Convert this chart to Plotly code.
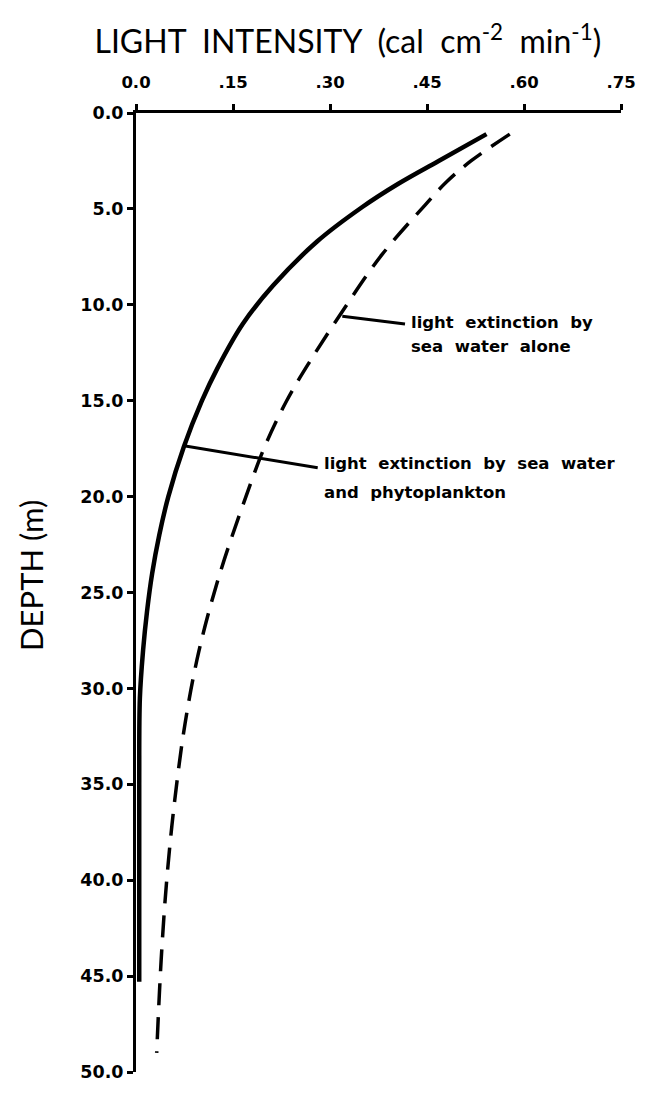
import plotly.graph_objects as go

# ---- data ----
depth_phyto = [1.1, 2.5, 3.7, 4.9, 6.7, 9.0, 11.0, 13.3, 15.0, 17.4, 20.0, 22.0, 24.0, 26.0, 28.0, 30.5, 35.0, 40.0, 45.3]
light_phyto = [0.542, 0.468, 0.405, 0.350, 0.280, 0.212, 0.165, 0.126, 0.102, 0.074, 0.050, 0.036, 0.025, 0.017, 0.011, 0.006, 0.005, 0.005, 0.005]

depth_water = [1.1, 2.5, 3.6, 4.8, 7.4, 10.4, 13.0, 15.0, 17.4, 20.0, 24.2, 28.1, 31.8, 35.8, 39.8, 44.1, 49.0]
light_water = [0.578, 0.518, 0.480, 0.447, 0.380, 0.318, 0.268, 0.233, 0.199, 0.170, 0.128, 0.097, 0.076, 0.060, 0.048, 0.039, 0.032]

x_tickvals = [0.0, 0.15, 0.30, 0.45, 0.60, 0.75]
x_ticktext = ["0.0", ".15", ".30", ".45", ".60", ".75"]
y_tickvals = [0, 5, 10, 15, 20, 25, 30, 35, 40, 45, 50]
y_ticktext = ["0.0", "5.0", "10.0", "15.0", "20.0", "25.0", "30.0", "35.0", "40.0", "45.0", "50.0"]

# leader lines (light, depth) and label lines
leader_water_x = [0.319, 0.416]
leader_water_y = [10.6, 11.0]
label_water_lines = ["light  extinction  by", "sea  water  alone"]
label_water_x = 0.422
label_water_y = [10.9, 12.15]

leader_phyto_x = [0.074, 0.281]
leader_phyto_y = [17.35, 18.5]
label_phyto_lines = ["light  extinction  by  sea  water", "and  phytoplankton"]
label_phyto_x = 0.288
label_phyto_y = [18.3, 19.8]

title_text = "LIGHT  INTENSITY  (cal  cm<sup>-2</sup>  min<sup>-1</sup>)"
ytitle_text = "DEPTH (m)"

fig = go.Figure()
fig.add_trace(go.Scatter(x=light_phyto, y=depth_phyto, mode="lines",
                         line=dict(color="black", width=4.5, shape="spline", smoothing=1.0),
                         showlegend=False, hoverinfo="skip"))
fig.add_trace(go.Scatter(x=light_water, y=depth_water, mode="lines",
                         line=dict(color="black", width=3.5, dash="22px,12px", shape="spline", smoothing=1.0),
                         showlegend=False, hoverinfo="skip"))
fig.add_trace(go.Scatter(x=leader_water_x, y=leader_water_y, mode="lines",
                         line=dict(color="black", width=3), showlegend=False, hoverinfo="skip"))
fig.add_trace(go.Scatter(x=leader_phyto_x, y=leader_phyto_y, mode="lines",
                         line=dict(color="black", width=3), showlegend=False, hoverinfo="skip"))

xtickfont = dict(family="DejaVu Sans", size=16.5, color="black", weight="bold")
ytickfont = dict(family="DejaVu Sans", size=17.5, color="black", weight="bold")
labfont = dict(family="DejaVu Sans", size=16.5, color="black", weight="bold")

for txt, yy in zip(label_water_lines, label_water_y):
    fig.add_annotation(x=label_water_x, y=yy, xref="x", yref="y", text=txt, showarrow=False,
                       xanchor="left", yanchor="middle", align="left", font=labfont)
for txt, yy in zip(label_phyto_lines, label_phyto_y):
    fig.add_annotation(x=label_phyto_x, y=yy, xref="x", yref="y", text=txt, showarrow=False,
                       xanchor="left", yanchor="middle", align="left", font=labfont)

fig.add_annotation(x=-0.215, y=0.518, xref="paper", yref="paper", text=ytitle_text,
                   textangle=-90, showarrow=False, xanchor="center", yanchor="middle",
                   font=dict(family="Lato", size=31, color="black"))

fig.update_layout(
    width=640, height=1104,
    paper_bgcolor="white", plot_bgcolor="white",
    margin=dict(l=128, r=19, t=105, b=40),
    title=dict(text=title_text, x=0.531, xanchor="center", y=1 - 34 / 1104, yanchor="middle",
               font=dict(family="Lato", size=32, color="black")),
    xaxis=dict(side="top", range=[0, 0.75], tickvals=x_tickvals, ticktext=x_ticktext,
               showgrid=False, zeroline=False, showline=True, linecolor="black", linewidth=3,
               ticks="outside", ticklen=6, tickwidth=2.5, tickcolor="black",
               tickfont=xtickfont, ticklabelstandoff=9),
    yaxis=dict(range=[50, 0], tickvals=y_tickvals, ticktext=y_ticktext,
               showgrid=False, zeroline=False, showline=True, linecolor="black", linewidth=3,
               ticks="outside", ticklen=6, tickwidth=2.5, tickcolor="black",
               tickfont=ytickfont),
)

fig.write_html("out.html")
